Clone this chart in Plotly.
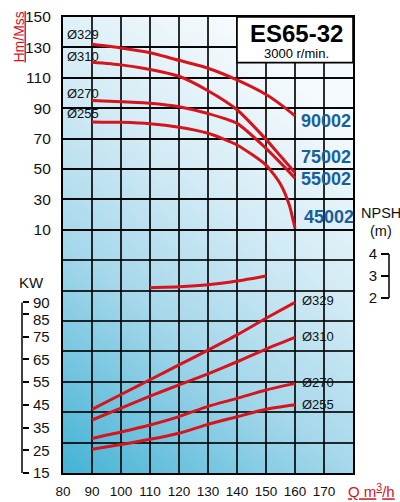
import plotly.graph_objects as go
import zlib, struct, base64

# ---------------- data ----------------
x_ticks = [80, 90, 100, 110, 120, 130, 140, 150, 160, 170]
head_ticks = [10, 30, 50, 70, 90, 110, 130, 150]
kw_ticks = [15, 25, 35, 45, 55, 65, 75, 90]
kw_tick_85 = [85]
npsh_ticks = [2, 3, 4]

q_head = [90, 100, 110, 120, 130, 140, 150, 155, 160]
head_329 = [132, 129.6, 126.5, 121.5, 116.3, 108.6, 99, 92.5, 85]
head_310 = [120.2, 118.5, 115.5, 111, 101.5, 89, 69.5, 58.5, 47.5]
head_270 = [95, 94.3, 93.3, 91, 86.5, 80, 63.6, 54, 44]
q_head_255 = [90, 100, 110, 120, 130, 140, 150, 155, 158, 160]
head_255 = [81, 80.7, 79.8, 77.5, 73.5, 65.8, 52.6, 40, 26.5, 11]

q_kw = [90, 100, 110, 120, 130, 140, 150, 160]
kw_329 = [43, 49.5, 56, 62.5, 69, 75.7, 83, 90]
kw_310 = [38.3, 43.5, 48.8, 53.7, 58.6, 63.9, 69.5, 74.6]
kw_270 = [30.2, 33, 36.1, 39.8, 44.3, 47.8, 51.5, 54.4]
kw_255 = [25.4, 27.5, 29.8, 32.5, 36.4, 39.7, 43, 45]

q_npsh = [110, 120, 130, 140, 150]
npsh = [2.47, 2.51, 2.6, 2.77, 3.0]

diam_labels = ["Ø329", "Ø310", "Ø270", "Ø255"]
model_labels = ["90002", "75002", "55002", "45002"]

RED = "#d5141d"
BLUE = "#17609b"
FONT = "Liberation Sans, Arial, sans-serif"
TXT = "#111"

# --------------- gradient background image ---------------
def make_png(w, h):
    stops = [(0.0, (244, 250, 253)), (0.3, (212, 236, 246)),
             (0.6, (166, 216, 235)), (1.0, (70, 180, 214))]
    def col(t):
        t = max(0.0, min(1.0, t))
        for (a, ca), (b, cb) in zip(stops[:-1], stops[1:]):
            if t <= b:
                f = (t - a) / (b - a)
                return [int(ca[i] + (cb[i] - ca[i]) * f) for i in range(3)]
        return list(stops[-1][1])
    raw = b""
    for j in range(h):
        yn = 1 - j / (h - 1)
        row = bytearray([0])
        for i in range(w):
            xn = i / (w - 1)
            d = 0.8 * (1 - yn) + 0.4 * (1 - xn) - 0.2
            row += bytes(col(d))
        raw += bytes(row)
    def chunk(t, d):
        return struct.pack(">I", len(d)) + t + d + struct.pack(">I", zlib.crc32(t + d) & 0xffffffff)
    data = b"\x89PNG\r\n\x1a\n" + chunk(b"IHDR", struct.pack(">IIBBBBB", w, h, 8, 2, 0, 0, 0)) \
        + chunk(b"IDAT", zlib.compress(raw)) + chunk(b"IEND", b"")
    return "data:image/png;base64," + base64.b64encode(data).decode()

bg_uri = make_png(80, 120)

# ---------------- figure ----------------
fig = go.Figure()
line_style = dict(color=RED, width=3, shape="spline", smoothing=0.6)

for q, h in [(q_head, head_329), (q_head, head_310), (q_head, head_270), (q_head_255, head_255)]:
    fig.add_trace(go.Scatter(x=q, y=h, mode="lines", line=line_style, xaxis="x", yaxis="y",
                             hoverinfo="skip", showlegend=False))
for k in [kw_329, kw_310, kw_270, kw_255]:
    fig.add_trace(go.Scatter(x=q_kw, y=k, mode="lines", line=line_style, xaxis="x", yaxis="y2",
                             hoverinfo="skip", showlegend=False))
fig.add_trace(go.Scatter(x=q_npsh, y=npsh, mode="lines", line=line_style, xaxis="x", yaxis="y3",
                         hoverinfo="skip", showlegend=False))

L, B, T = 10, 29, 17
W, H = 400, 502
pw = W - L
ph = H - T - B
def px2paper_x(px):
    return (px - L) / pw
def px2paper_y(py):
    return (H - B - py) / ph
KW_PX = 2.275  # pixels per kW

x0p, x1p = px2paper_x(63), px2paper_x(353)
grid = "rgba(0,0,0,0.82)"

fig.update_layout(
    width=W, height=H,
    margin=dict(l=L, r=0, t=T, b=B),
    paper_bgcolor="white", plot_bgcolor="white",
    font=dict(family=FONT, color=TXT),
    xaxis=dict(domain=[x0p, x1p], range=[80, 180], tickvals=x_ticks,
               ticktext=[str(v) for v in x_ticks], showgrid=True, gridcolor=grid, gridwidth=1.6,
               showline=True, linecolor="black", linewidth=2.2, mirror=True,
               ticks="", tickfont=dict(size=13.5, family=FONT, color=TXT), zeroline=False,
               ticklabelstandoff=5),
    yaxis=dict(range=[-150, 150], tickvals=head_ticks,
               showgrid=True, gridcolor=grid, gridwidth=1.6, showline=True, linecolor="black",
               linewidth=2.2, mirror=True, ticks="", zeroline=False,
               minor=dict(tick0=10, dtick=20, showgrid=True, gridcolor=grid, gridwidth=1.6,
                          ticks=""),
               tickfont=dict(size=15.5, family=FONT, color=TXT), ticklabelstandoff=7),
    yaxis2=dict(overlaying="y", anchor="free", position=px2paper_x(22), side="right",
                range=[15, 15 + ph / KW_PX], tickvals=kw_ticks,
                ticks="outside", ticklen=6,
                minor=dict(tickvals=kw_tick_85, ticks="outside", ticklen=6, tickwidth=1.5,
                           tickcolor="black", showgrid=False),
                tickwidth=1.5, tickcolor="black", showgrid=False, showline=False, zeroline=False,
                tickfont=dict(size=15, family=FONT, color=TXT), ticklabelstandoff=1),
    yaxis3=dict(overlaying="y", anchor="free", position=px2paper_x(389), side="left",
                range=[2 - 175 / 22, 2 + 281 / 22], tickvals=npsh_ticks, ticks="outside",
                ticklen=8, tickwidth=1.5, tickcolor="black", showgrid=False, showline=False,
                zeroline=False, tickfont=dict(size=15, family=FONT, color=TXT),
                ticklabelstandoff=1),
    images=[dict(source=bg_uri, xref="x", yref="y", x=80, y=150, sizex=100, sizey=300,
                 sizing="stretch", layer="below", xanchor="left", yanchor="top")],
)

shapes = [
    # title box
    dict(type="rect", xref="x", yref="y", x0=140, x1=180, y0=120, y1=150,
         fillcolor="white", line=dict(color="black", width=1.6), layer="between"),
    # KW bracket
    dict(type="line", xref="paper", yref="y2", x0=px2paper_x(22), x1=px2paper_x(22),
         y0=kw_ticks[0], y1=kw_ticks[-1], line=dict(color="black", width=1.5)),
    # NPSH bracket
    dict(type="line", xref="paper", yref="y3", x0=px2paper_x(389), x1=px2paper_x(389),
         y0=npsh_ticks[0], y1=npsh_ticks[-1], line=dict(color="black", width=1.5)),
]
fig.update_layout(shapes=shapes)

def txt(**kw):
    d = dict(showarrow=False, xanchor="center", yanchor="middle")
    d.update(kw)
    return d

ann = []
# "85" label of the kW scale, nudged below its tick as in the original
ann.append(txt(x=px2paper_x(31), y=15 + (H - B - 319) / KW_PX, xref="paper", yref="y2",
               text=str(kw_tick_85[0]), xanchor="left", font=dict(size=15, family=FONT, color=TXT)))
# left diameter labels on head curves
for lab, yv in zip(diam_labels, [138.2, 124.3, 100, 86.2]):
    ann.append(txt(x=80.7, y=yv, xref="x", yref="y", text=lab, xanchor="left",
                   font=dict(size=13, family=FONT, color=TXT)))
# model labels
for lab, xv, yv in zip(model_labels, [161.3, 161.3, 161.3, 162.4], [81.8, 57.9, 43.4, 18.6]):
    ann.append(txt(x=xv, y=yv, xref="x", yref="y", text="<b>%s</b>" % lab, xanchor="left",
                   font=dict(size=18, family=FONT, color=BLUE)))
# power labels
for lab, yv in zip(diam_labels, [90.7, 74.8, 55, 44.9]):
    ann.append(txt(x=161.6, y=yv, xref="x", yref="y2", text=lab, xanchor="left",
                   font=dict(size=13, family=FONT, color=TXT)))
# title box text
ann.append(txt(x=160.4, y=139.3, xref="x", yref="y", text="<b>ES65-32</b>",
               font=dict(size=24, family=FONT, color="black")))
ann.append(txt(x=160.4, y=126.3, xref="x", yref="y", text="3000 r/min.",
               font=dict(size=13, family=FONT, color="black")))
# axis titles
ann.append(txt(x=px2paper_x(19), y=px2paper_y(37.5), xref="paper", yref="paper",
               text="<u>Hm/Mss</u>", textangle=-90, font=dict(size=14, family=FONT, color=RED)))
ann.append(txt(x=px2paper_x(31), y=px2paper_y(282), xref="paper", yref="paper", text="KW",
               font=dict(size=15, family=FONT, color=TXT)))
ann.append(txt(x=px2paper_x(381), y=px2paper_y(213), xref="paper", yref="paper", text="NPSH",
               font=dict(size=14.5, family=FONT, color=TXT)))
ann.append(txt(x=px2paper_x(381), y=px2paper_y(231), xref="paper", yref="paper", text="(m)",
               font=dict(size=14.5, family=FONT, color=TXT)))
ann.append(txt(x=px2paper_x(371), y=px2paper_y(490), xref="paper", yref="paper",
               text="<u>Q m<sup>3</sup>/h</u>", font=dict(size=15, family=FONT, color=RED)))
fig.update_layout(annotations=ann)

fig.write_html("out.html", config={"displayModeBar": False},
               post_script="document.body.style.margin='0';document.body.style.overflow='hidden';")
